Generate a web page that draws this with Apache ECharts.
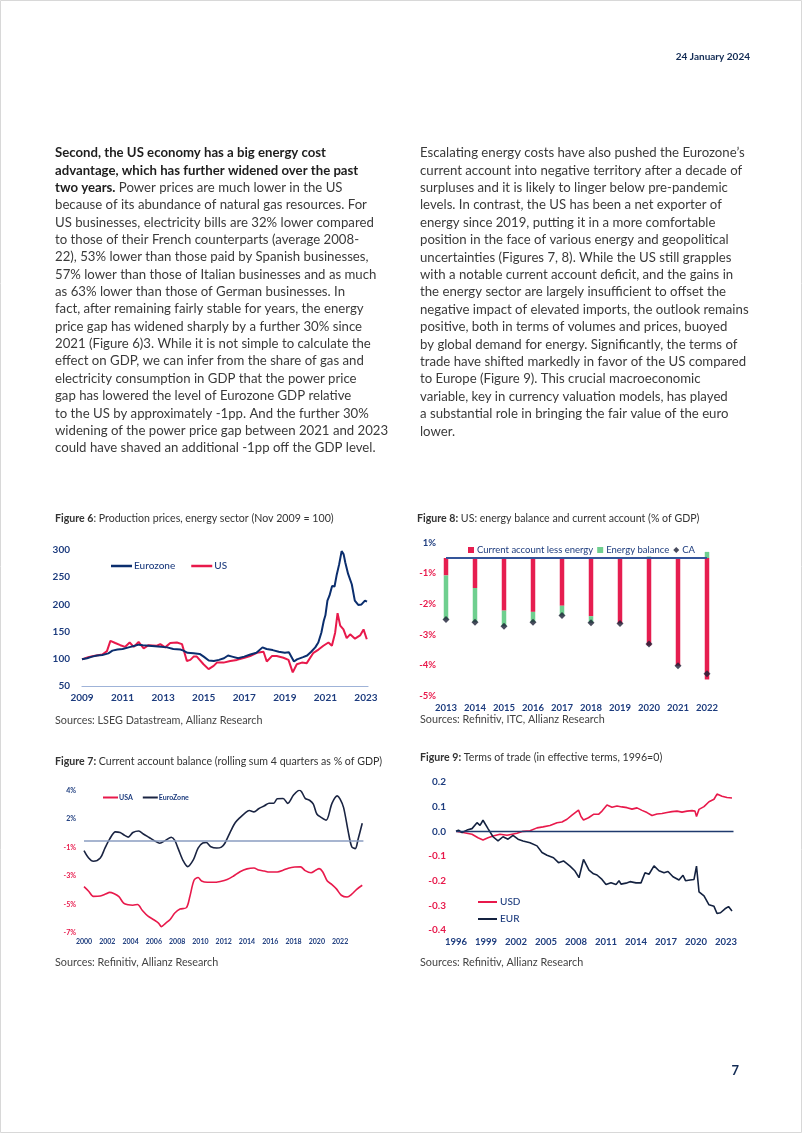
<!DOCTYPE html>
<html><head><meta charset="utf-8">
<script src="https://cdn.jsdelivr.net/npm/echarts/dist/echarts.min.js"></script>
<style>html,body{margin:0;padding:0;background:#fff}#c{width:802px;height:1133px}</style>
</head><body><div id="c"></div><script>
// ---------- DATA ----------
// Figure 6: Production prices, energy sector (Nov 2009 = 100)
const fig6EzYears = [2009.0,2009.25,2009.5,2009.75,2010.0,2010.3,2010.5,2010.75,2011.0,2011.3,2011.6,2011.8,2012.0,2012.3,2012.6,2012.9,2013.2,2013.5,2013.85,2014.0,2014.2,2014.5,2014.8,2015.0,2015.25,2015.5,2015.75,2016.0,2016.2,2016.4,2016.7,2017.0,2017.3,2017.6,2017.9,2018.1,2018.4,2018.7,2019.0,2019.2,2019.45,2019.6,2019.9,2020.1,2020.3,2020.5,2020.65,2020.8,2020.92,2021.0,2021.1,2021.2,2021.33,2021.45,2021.55,2021.68,2021.8,2021.9,2021.98,2022.05,2022.12,2022.3,2022.45,2022.62,2022.78,2022.95,2023.05];
const fig6EzValues = [99,101,104,106,107,110,115,117,118,121,124,126,125,124,123,122,121,118,117,115,111,110,109,104,97,96,98,101,106,104,101,104,108,111,121,118,116,113,111,112,95,99,103,106,113,121,130,148,170,180,207,216,234,233,253,274,298,292,277,276,256,237,207,199,200,207,205];
const fig6UsYears = [2009.0,2009.3,2009.57,2010.0,2010.23,2010.4,2010.64,2010.89,2011.13,2011.35,2011.55,2011.79,2012.04,2012.28,2012.69,2012.86,2013.1,2013.35,2013.68,2013.93,2014.17,2014.34,2014.5,2014.66,2014.99,2015.24,2015.49,2015.65,2015.98,2016.31,2016.64,2017.01,2017.29,2017.62,2017.95,2018.11,2018.36,2018.6,2018.93,2019.18,2019.39,2019.59,2019.84,2020.08,2020.41,2020.66,2020.9,2021.15,2021.32,2021.48,2021.6,2021.73,2021.89,2022.05,2022.22,2022.46,2022.71,2022.88,2023.04];
const fig6UsValues = [99,103,105,108,114,133,129,125,122,130,122,131,119,125,124,127,121,129,130,127,96,98,104,104,90,81,87,93,93,96,98,102,105,111,113,95,105,105,102,98,75,90,93,92,111,117,124,130,124,148,184,161,154,138,145,137,143,154,136];
const fig6YTicks = [50,300];

// Figure 8: US energy balance and current account (% of GDP)
const fig8Years = ['2013','2014','2015','2016','2017','2018','2019','2020','2021','2022'];
const fig8CaLessEnergy = [-0.57,-0.98,-1.72,-1.76,-1.56,-1.90,-2.14,-2.86,-3.52,-3.97];
const fig8EnergyBalance = [-1.44,-1.12,-0.51,-0.34,-0.32,-0.22,0.0,0.05,0.0,0.20];
const fig8CA = [-2.01,-2.10,-2.23,-2.10,-1.88,-2.12,-2.14,-2.81,-3.52,-3.78];

// Figure 7: Current account balance (rolling sum 4 quarters, % of GDP)
const fig7EzYears = [2000.0,2000.4,2000.8,2001.4,2001.8,2002.2,2002.7,2003.1,2003.5,2003.8,2004.2,2004.7,2005.1,2005.6,2006.1,2006.5,2007.0,2007.5,2007.8,2008.1,2008.5,2008.9,2009.4,2009.8,2010.2,2010.5,2010.9,2011.4,2011.8,2012.1,2012.6,2013.0,2013.4,2013.8,2014.2,2014.6,2015.0,2015.5,2015.9,2016.3,2016.6,2017.1,2017.5,2018.0,2018.5,2018.7,2019.0,2019.4,2019.7,2020.0,2020.4,2020.8,2021.3,2021.75,2022.0,2022.3,2022.7,2023.0,2023.3,2023.55,2023.9];
const fig7EzValues = [-0.72,-1.24,-1.47,-1.24,-0.54,0.09,0.6,0.55,0.35,0.23,0.55,0.66,0.45,0.2,-0.05,-0.2,0.0,0.22,0.0,-0.6,-1.4,-1.84,-1.35,-0.54,-0.18,-0.15,-0.45,-0.54,-0.47,-0.2,0.65,1.25,1.6,1.9,2.1,2.0,2.22,2.43,2.61,2.61,2.92,2.94,2.6,3.18,3.52,3.4,2.95,2.8,2.55,1.85,1.6,1.42,2.6,3.12,2.9,2.3,0.6,-0.45,-0.58,0.1,1.2];
const fig7UsYears = [2000.0,2000.4,2000.8,2001.4,2001.9,2002.2,2002.6,2003.0,2003.4,2003.8,2004.2,2004.6,2005.0,2005.5,2005.95,2006.4,2006.65,2007.0,2007.4,2007.8,2008.25,2008.8,2009.1,2009.45,2009.8,2010.1,2010.6,2011.1,2011.7,2012.3,2012.85,2013.4,2014.0,2014.6,2015.0,2015.5,2015.9,2016.6,2017.1,2017.55,2018.1,2018.6,2019.0,2019.5,2019.9,2020.2,2020.5,2020.9,2021.3,2021.7,2022.1,2022.6,2023.0,2023.4,2023.9];
const fig7UsValues = [-3.25,-3.57,-3.93,-3.9,-3.75,-3.65,-3.75,-3.95,-4.4,-4.52,-4.55,-4.5,-4.9,-5.32,-5.55,-5.8,-6.05,-5.82,-5.55,-5.1,-4.82,-4.72,-3.92,-2.8,-2.6,-2.85,-2.94,-2.94,-2.88,-2.75,-2.5,-2.2,-2.0,-1.94,-2.08,-2.15,-2.22,-2.22,-2.1,-1.95,-1.87,-1.86,-2.12,-2.27,-2.1,-1.98,-2.2,-2.85,-3.1,-3.42,-3.85,-3.97,-3.78,-3.45,-3.15];

// Figure 9: Terms of trade (effective terms, 1996 = 0)
const fig9UsdYears = [1996.0,1996.7,1997.6,1998.2,1998.7,1999.2,1999.7,2000.4,2001.1,2001.6,2002.1,2002.7,2003.4,2004.1,2004.7,2005.4,2006.1,2006.6,2007.1,2007.6,2008.25,2008.5,2008.75,2009.25,2009.75,2010.25,2010.6,2011.1,2011.6,2012.1,2012.6,2013.1,2013.6,2014.1,2014.6,2015.1,2015.6,2016.1,2016.6,2017.1,2017.6,2018.1,2018.6,2019.1,2019.6,2019.9,2020.05,2020.3,2020.8,2021.3,2021.8,2022.1,2022.6,2023.1,2023.6];
const fig9UsdValues = [0,-0.005,-0.012,-0.026,-0.035,-0.026,-0.019,-0.012,-0.016,-0.012,-0.008,0.0,0.002,0.014,0.018,0.024,0.035,0.038,0.049,0.066,0.086,0.06,0.046,0.055,0.069,0.069,0.082,0.107,0.098,0.103,0.099,0.096,0.09,0.095,0.085,0.076,0.064,0.07,0.072,0.076,0.08,0.082,0.078,0.082,0.084,0.082,0.06,0.089,0.1,0.12,0.13,0.151,0.142,0.137,0.135];
const fig9EurYears = [1996.0,1996.25,1996.6,1997.1,1997.6,1998.1,1998.4,1998.7,1999.2,1999.7,2000.2,2000.7,2001.2,2001.7,2002.2,2002.7,2003.4,2004.1,2004.6,2005.1,2005.75,2006.25,2006.75,2007.4,2007.9,2008.3,2008.75,2009.3,2009.75,2010.1,2010.6,2011.0,2011.5,2012.0,2012.3,2012.5,2013.0,2013.4,2014.0,2014.5,2014.9,2015.3,2015.8,2016.3,2016.8,2017.2,2017.7,2018.3,2018.7,2018.95,2019.4,2019.8,2020.05,2020.3,2020.8,2021.3,2021.8,2022.1,2022.45,2022.9,2023.25,2023.6];
const fig9EurValues = [0,0.005,-0.005,0.005,0.011,0.035,0.024,0.045,0.011,-0.022,-0.039,-0.022,-0.032,-0.016,-0.032,-0.039,-0.046,-0.059,-0.086,-0.097,-0.107,-0.127,-0.12,-0.141,-0.161,-0.188,-0.114,-0.157,-0.172,-0.177,-0.195,-0.216,-0.208,-0.216,-0.2,-0.214,-0.21,-0.204,-0.209,-0.209,-0.168,-0.174,-0.14,-0.16,-0.168,-0.163,-0.184,-0.197,-0.178,-0.2,-0.197,-0.195,-0.141,-0.245,-0.262,-0.298,-0.304,-0.333,-0.33,-0.314,-0.305,-0.323];

// ---------- PAGE TEXT ----------
const headerDate = '24 January 2024';
const pageNumber = '7';
const leftLines = [
  '{b|Second, the US economy has a big energy cost}',
  '{b|advantage, which has further widened over the past}',
  '{b|two years.}{r| Power prices are much lower in the US}',
  'because of its abundance of natural gas resources. For',
  'US businesses, electricity bills are 32% lower compared',
  'to those of their French counterparts (average 2008-',
  '22), 53% lower than those paid by Spanish businesses,',
  '57% lower than those of Italian businesses and as much',
  'as 63% lower than those of German businesses. In',
  'fact, after remaining fairly stable for years, the energy',
  'price gap has widened sharply by a further 30% since',
  '2021 (Figure 6)3. While it is not simple to calculate the',
  'effect on GDP, we can infer from the share of gas and',
  'electricity consumption in GDP that the power price',
  'gap has lowered the level of Eurozone GDP relative',
  'to the US by approximately -1pp. And the further 30%',
  'widening of the power price gap between 2021 and 2023',
  'could have shaved an additional -1pp off the GDP level.'
];
const rightLines = [
  'Escalating energy costs have also pushed the Eurozone\u2019s',
  'current account into negative territory after a decade of',
  'surpluses and it is likely to linger below pre-pandemic',
  'levels. In contrast, the US has been a net exporter of',
  'energy since 2019, putting it in a more comfortable',
  'position in the face of various energy and geopolitical',
  'uncertainties (Figures 7, 8). While the US still grapples',
  'with a notable current account deficit, and the gains in',
  'the energy sector are largely insufficient to offset the',
  'negative impact of elevated imports, the outlook remains',
  'positive, both in terms of volumes and prices, buoyed',
  'by global demand for energy. Significantly, the terms of',
  'trade have shifted markedly in favor of the US compared',
  'to Europe (Figure 9). This crucial macroeconomic',
  'variable, key in currency valuation models, has played',
  'a substantial role in bringing the fair value of the euro',
  'lower.'
];
const figTitles = [
  {x:55, y:519, b:'Figure 6', r:': Production prices, energy sector (Nov 2009 = 100)'},
  {x:417, y:519, b:'Figure 8:', r:' US: energy balance and current account (% of GDP)'},
  {x:55, y:762, b:'Figure 7:', r:' Current account balance (rolling sum 4 quarters as % of GDP)'},
  {x:420, y:758, b:'Figure 9:', r:' Terms of trade (in effective terms, 1996=0)'}
];
const sources = [
  {x:55, y:721, t:'Sources: LSEG Datastream, Allianz Research'},
  {x:420, y:720, t:'Sources: Refinitiv, ITC, Allianz Research'},
  {x:55, y:963, t:'Sources: Refinitiv, Allianz Research'},
  {x:420, y:963, t:'Sources: Refinitiv, Allianz Research'}
];

// ---------- STYLE ----------
const FONT = 'Lato, "Open Sans", sans-serif';
const NAVY = '#1d3c7e';
const RED = '#e8194b';
const TXT = '#3a3a3a';
const BODY = 13.2;

const zip = (xs, ys) => xs.map((x, i) => [x, ys[i]]);

const graphic = [];
graphic.push({type:'rect', shape:{x:0.5,y:0.5,width:801,height:1132}, style:{fill:'none', stroke:'#d8d8d8', lineWidth:1}, silent:true});
graphic.push({type:'text', x:750, y:57, style:{text:headerDate, font:'bold 10px '+FONT, fill:'#122b54', align:'right', verticalAlign:'middle'}});
graphic.push({type:'text', x:739, y:1071, style:{text:pageNumber, font:'bold 13px '+FONT, fill:'#122b54', align:'right', verticalAlign:'middle'}});
const bodyRich = {
  b:{fontFamily:FONT, fontWeight:'bold', fontSize:BODY, fill:'#1e1e1e'},
  r:{fontFamily:FONT, fontWeight:'normal', fontSize:BODY, fill:TXT}
};
leftLines.forEach((t, i) => {
  graphic.push({type:'text', x:55, y:153 + i*17.35, style:{text:t, rich:bodyRich, font:BODY+'px '+FONT, fill:TXT, verticalAlign:'middle'}});
});
rightLines.forEach((t, i) => {
  graphic.push({type:'text', x:420, y:153 + i*17.4, style:{text:t, font:BODY+'px '+FONT, fill:TXT, verticalAlign:'middle'}});
});
figTitles.forEach(f => {
  graphic.push({type:'text', x:f.x, y:f.y, style:{text:'{b|'+f.b+'}{r|'+f.r+'}', verticalAlign:'middle',
    rich:{b:{fontFamily:FONT, fontWeight:'bold', fontSize:10.6, fill:'#333'}, r:{fontFamily:FONT, fontSize:10.6, fill:'#333'}}}});
});
sources.forEach(s => {
  graphic.push({type:'text', x:s.x, y:s.y, style:{text:s.t, font:'10.8px '+FONT, fill:'#444', verticalAlign:'middle'}});
});

const signLabel = (txt, v) => (v < 0 ? '{r|' + txt + '}' : '{n|' + txt + '}');
const labRich = (size) => ({n:{color:NAVY, fontWeight:'bold', fontSize:size, fontFamily:FONT}, r:{color:RED, fontWeight:'bold', fontSize:size, fontFamily:FONT}});
const roundAway = v => Math.sign(v) * Math.ceil(Math.abs(v) - 1e-9);

const noSplit = {show:false};

const option = {
  animation:false,
  backgroundColor:'#fff',
  graphic: graphic,
  grid: [
    {left:82, top:550, width:286, height:136},
    {left:431.5, top:542.7, width:290, height:153},
    {left:84, top:790.5, width:279.4, height:142.5},
    {left:456, top:782, width:277.5, height:148}
  ],
  xAxis: [
    {gridIndex:0, type:'value', min:2009, max:2023.1, interval:1,
      axisLine:{show:true, lineStyle:{color:'#9fb3d8', width:1.2}}, axisTick:{show:false}, splitLine:noSplit,
      axisLabel:{margin:7, color:NAVY, fontWeight:'bold', fontSize:10, fontFamily:FONT, showMaxLabel:false,
        formatter:v => ((v - 2009) % 2 === 0 ? String(v) : '')}},
    {gridIndex:1, type:'category', data:fig8Years, boundaryGap:true,
      axisLine:{show:false}, axisTick:{show:false}, splitLine:noSplit,
      axisLabel:{margin:7, color:NAVY, fontWeight:'bold', fontSize:9.5, fontFamily:FONT, interval:0}},
    {gridIndex:2, type:'value', min:2000, max:2024, interval:2,
      axisLine:{show:false}, axisTick:{show:false}, splitLine:noSplit,
      axisLabel:{margin:5, color:NAVY, fontWeight:'bold', fontSize:7, fontFamily:FONT, formatter:v => (v <= 2022 ? String(v) : '')}},
    {gridIndex:3, type:'value', min:1996, max:2023.75, interval:1,
      axisLine:{show:false}, axisTick:{show:false}, splitLine:noSplit,
      axisLabel:{margin:7, color:NAVY, fontWeight:'bold', fontSize:9.5, fontFamily:FONT, showMaxLabel:false,
        formatter:v => ((v - 1996) % 3 === 0 ? String(v) : '')}}
  ],
  yAxis: [
    {gridIndex:0, type:'value', min:fig6YTicks[0], max:fig6YTicks[1], interval:50,
      axisLine:{show:false}, axisTick:{show:false}, splitLine:noSplit,
      axisLabel:{margin:12, color:NAVY, fontWeight:'bold', fontSize:10, fontFamily:FONT}},
    {gridIndex:1, type:'value', min:-4.5, max:0.5, interval:0.5,
      axisLine:{show:false}, axisTick:{show:false}, splitLine:noSplit,
      axisLabel:{margin:-4.5, rich:labRich(9.5), formatter:v => {
        const k = Math.round(v * 2);
        if (Math.abs(k % 2) !== 1) return '';
        return signLabel(roundAway(v) + '%', v);
      }}},
    {gridIndex:2, type:'value', min:-6.5, max:3.5, interval:0.5,
      axisLine:{show:false}, axisTick:{show:false}, splitLine:noSplit,
      axisLabel:{margin:8, rich:labRich(7), formatter:v => {
        const k = Math.round((v + 6.5) * 2);
        if (k % 4 !== 0) return '';
        return signLabel(roundAway(v) + '%', v);
      }}},
    {gridIndex:3, type:'value', min:-0.4, max:0.2, interval:0.1,
      axisLine:{show:false}, axisTick:{show:false}, splitLine:noSplit,
      axisLabel:{margin:10, rich:labRich(10), formatter:v => signLabel(v.toFixed(1), v)}}
  ],
  legend: [
    {left:106, top:556, itemWidth:21, itemHeight:2.5, icon:'rect', itemGap:16,
      textStyle:{color:NAVY, fontSize:10, fontFamily:FONT, fontWeight:500, padding:[0,0,0,-3]}, data:['Eurozone','US']},
    {left:463, top:540, itemWidth:6, itemHeight:6, itemGap:4,
      textStyle:{color:NAVY, fontSize:9.5, fontFamily:FONT, padding:[0,0,0,-2]},
      data:[{name:'Current account less energy', icon:'rect'},{name:'Energy balance', icon:'rect'},{name:'CA', icon:'diamond'}]},
    {left:98, top:789, itemWidth:15, itemHeight:2, icon:'rect', itemGap:10,
      textStyle:{color:NAVY, fontSize:7, fontFamily:FONT, fontWeight:'bold', padding:[0,0,0,-4]}, data:['USA','EuroZone']},
    {left:473, top:892, orient:'vertical', itemWidth:19, itemHeight:2, icon:'rect', itemGap:7,
      textStyle:{color:NAVY, fontSize:10, fontFamily:FONT, fontWeight:500, padding:[0,0,0,-2]}, data:['USD','EUR']}
  ],
  series: [
    {name:'Eurozone', type:'line', xAxisIndex:0, yAxisIndex:0, data:zip(fig6EzYears, fig6EzValues),
      showSymbol:false, symbol:'none', lineStyle:{color:'#0b2e6e', width:2}, itemStyle:{color:'#0b2e6e'}, z:3},
    {name:'US', type:'line', xAxisIndex:0, yAxisIndex:0, data:zip(fig6UsYears, fig6UsValues),
      showSymbol:false, symbol:'none', lineStyle:{color:RED, width:2}, itemStyle:{color:RED}, z:2},

    {name:'Current account less energy', type:'bar', xAxisIndex:1, yAxisIndex:1, stack:'f8', barWidth:4.5,
      data:fig8CaLessEnergy, itemStyle:{color:'#e61e50'},
      markLine:{silent:true, symbol:'none', label:{show:false}, lineStyle:{color:'#34559a', width:2, type:'solid'},
        data:[[{xAxis:'2013', yAxis:0},{xAxis:'2022', yAxis:0}]]}},
    {name:'Energy balance', type:'bar', xAxisIndex:1, yAxisIndex:1, stack:'f8', barWidth:4.5,
      data:fig8EnergyBalance, itemStyle:{color:'#6fcf8f'}},
    {name:'CA', type:'scatter', xAxisIndex:1, yAxisIndex:1, symbol:'diamond', symbolSize:7,
      data:fig8CA, itemStyle:{color:'#1b1f36'}, z:5},

    {name:'USA', type:'line', xAxisIndex:2, yAxisIndex:2, data:zip(fig7UsYears, fig7UsValues), smooth:0.3,
      showSymbol:false, symbol:'none', lineStyle:{color:RED, width:1.6}, itemStyle:{color:RED},
      markLine:{silent:true, symbol:'none', label:{show:false}, lineStyle:{color:'#8a9cc0', width:1.5, type:'solid'}, data:[{yAxis:0}]}},
    {name:'EuroZone', type:'line', xAxisIndex:2, yAxisIndex:2, data:zip(fig7EzYears, fig7EzValues), smooth:0.3,
      showSymbol:false, symbol:'none', lineStyle:{color:'#1a2442', width:1.6}, itemStyle:{color:'#1a2442'}},

    {name:'USD', type:'line', xAxisIndex:3, yAxisIndex:3, data:zip(fig9UsdYears, fig9UsdValues),
      showSymbol:false, symbol:'none', lineStyle:{color:RED, width:1.6}, itemStyle:{color:RED},
      markLine:{silent:true, symbol:'none', label:{show:false}, lineStyle:{color:'#1f3a6e', width:1.3, type:'solid'}, data:[{yAxis:0}]}},
    {name:'EUR', type:'line', xAxisIndex:3, yAxisIndex:3, data:zip(fig9EurYears, fig9EurValues),
      showSymbol:false, symbol:'none', lineStyle:{color:'#142240', width:1.6}, itemStyle:{color:'#142240'}}
  ]
};

const chart = echarts.init(document.getElementById('c'), null, {renderer:'canvas'});
chart.setOption(option);
</script></body></html>
